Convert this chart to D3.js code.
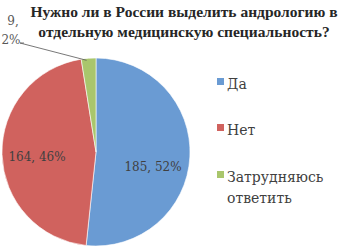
<!DOCTYPE html>
<html>
<head>
<meta charset="utf-8">
<script src="https://cdn.jsdelivr.net/npm/d3@7"></script>
<style>
  body { margin: 0; background: #fff; }
  svg { display: block; }
  svg text { font-family: 'DejaVu Serif', 'Liberation Serif', serif; }
  svg text.title { font-family: 'Liberation Serif', 'DejaVu Serif', serif; }
</style>
</head>
<body>
<div id="chart"></div>
<script>
// data
const categories = ['Да', 'Нет', 'Затрудняюсь ответить'];
const counts = [185, 164, 9];
const percents = ['52%', '46%', '2%'];
const colors = ['#6a9bd3', '#d0625e', '#a9c66c'];
const titleLines = ['Нужно ли в России выделить андрологию в', 'отдельную медицинскую специальность?'];

const width = 344, height = 250;
const cx = 96, cy = 152, radius = 94;

const svg = d3.select('#chart').append('svg')
  .attr('width', width)
  .attr('height', height);

const dataset = categories.map((c, i) => ({ label: c, count: counts[i], pct: percents[i] }));

const pie = d3.pie().value(d => d.count).sort(null);
const arc = d3.arc().innerRadius(0).outerRadius(radius);
const arcs = pie(dataset);

const g = svg.append('g').attr('transform', `translate(${cx},${cy})`);

g.selectAll('path')
  .data(arcs)
  .enter()
  .append('path')
  .attr('d', arc)
  .attr('fill', (d, i) => colors[i])
  .attr('stroke', '#fff')
  .attr('stroke-width', 0.6);

// labels inside the big slices
const labelPos = [[57, 19], [-59, 9]];
g.selectAll('.inlabel')
  .data(arcs.slice(0, 2))
  .enter()
  .append('text')
  .attr('class', 'inlabel')
  .attr('x', (d, i) => labelPos[i][0])
  .attr('y', (d, i) => labelPos[i][1])
  .attr('text-anchor', 'middle')
  .attr('font-size', 12)
  .attr('fill', '#404040')
  .text(d => d.data.count + ', ' + d.data.pct);

// the small slice gets an outside label with a leader line
const small = arcs[2];
const edge = d3.arc().innerRadius(radius).outerRadius(radius).centroid(small);
g.append('polyline')
  .attr('points', [[-72, -109], [-76, -109], [edge[0] - 2, edge[1] + 2]].map(p => p.join(',')).join(' '))
  .attr('fill', 'none')
  .attr('stroke', '#555')
  .attr('stroke-width', 0.8);

const outLabel = g.append('text')
  .attr('text-anchor', 'middle')
  .attr('font-size', 12)
  .attr('fill', '#595959');
outLabel.append('tspan').attr('x', -83).attr('y', -127).text(small.data.count + ',');
outLabel.append('tspan').attr('x', -85).attr('y', -108).text(small.data.pct);

// title
svg.append('g').selectAll('text')
  .data(titleLines)
  .enter()
  .append('text')
  .attr('class', 'title')
  .attr('x', 184)
  .attr('y', (d, i) => 17 + i * 20)
  .attr('text-anchor', 'middle')
  .attr('font-size', 15.5)
  .attr('font-weight', 'bold')
  .attr('fill', '#262626')
  .text(d => d);

// legend
const legendY = [85, 131, 178];
const legend = svg.selectAll('.legend')
  .data(dataset)
  .enter()
  .append('g')
  .attr('class', 'legend')
  .attr('transform', (d, i) => `translate(217,${legendY[i]})`);

legend.append('rect')
  .attr('x', 0)
  .attr('y', -7)
  .attr('width', 7)
  .attr('height', 7)
  .attr('fill', (d, i) => colors[i]);

legend.each(function(d) {
  const words = d.label.split(' ');
  const t = d3.select(this).append('text')
    .attr('font-size', 14)
    .attr('fill', '#404040');
  words.forEach((w, j) => {
    t.append('tspan').attr('x', 10).attr('y', 4 + j * 21).text(w);
  });
});
</script>
</body>
</html>
